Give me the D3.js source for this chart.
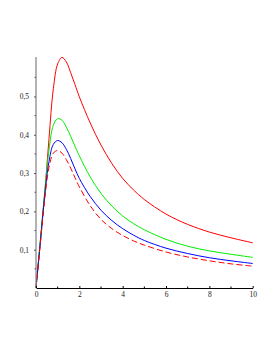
<!DOCTYPE html>
<html>
<head>
<meta charset="utf-8">
<script src="https://cdn.jsdelivr.net/npm/d3@7"></script>
<style>
  html, body { margin: 0; padding: 0; background: #ffffff; }
  svg { display: block; }
</style>
</head>
<body>
<svg id="chart" width="277" height="358"></svg>
<script>
// ---- data ----
const tValues      = [0, 0.2, 0.4, 0.6, 0.8, 1.0, 1.2, 1.4, 1.6, 1.8, 2, 2.5, 3, 3.5, 4, 4.5, 5, 6, 7, 8, 9, 10];
const redSolid     = [0, 0.12, 0.245, 0.39, 0.52, 0.585, 0.602, 0.59, 0.562, 0.531, 0.499, 0.431, 0.373, 0.325, 0.286, 0.256, 0.231, 0.193, 0.166, 0.146, 0.131, 0.118];
const greenSolid   = [0, 0.125, 0.25, 0.36, 0.425, 0.442, 0.438, 0.42, 0.396, 0.37, 0.345, 0.29, 0.247, 0.214, 0.188, 0.168, 0.152, 0.127, 0.109, 0.097, 0.088, 0.080];
const blueSolid    = [0, 0.12, 0.24, 0.33, 0.375, 0.385, 0.379, 0.362, 0.338, 0.311, 0.286, 0.239, 0.203, 0.176, 0.155, 0.138, 0.124, 0.104, 0.090, 0.079, 0.071, 0.064];
const redDashed    = [0, 0.115, 0.23, 0.315, 0.352, 0.359, 0.352, 0.335, 0.313, 0.288, 0.264, 0.215, 0.179, 0.155, 0.137, 0.123, 0.112, 0.094, 0.081, 0.071, 0.063, 0.057];
const xTickLabels  = [0, 2, 4, 6, 8, 10];
const xMinorTicks  = [1, 3, 5, 7, 9];
const yTickLabels  = [0.1, 0.2, 0.3, 0.4, 0.5];
const yMinorTicks  = [0.05, 0.15, 0.25, 0.35, 0.45, 0.55];

const series = [
  { values: redSolid,   color: "#ff0000", dash: null },
  { values: greenSolid, color: "#00ee00", dash: null },
  { values: blueSolid,  color: "#0000ff", dash: null },
  { values: redDashed,  color: "#ff0000", dash: "6,3" }
];

// ---- layout ----
const svg = d3.select("#chart");
const x = d3.scaleLinear().domain([0, 10]).range([36, 252.7]);
const y = d3.scaleLinear().domain([0, 0.603]).range([288, 57]);
const fmt = v => String(v).replace(".", ",");
const fontFam = "'Liberation Serif', 'Times New Roman', serif";

// curves
const line = d3.line()
  .x((d, i) => x(tValues[i]))
  .y(d => y(d))
  .curve(d3.curveCatmullRom.alpha(0.5));

series.forEach(s => {
  svg.append("path")
    .datum(s.values)
    .attr("d", line)
    .attr("fill", "none")
    .attr("stroke", s.color)
    .attr("stroke-width", 1)
    .attr("stroke-dasharray", s.dash);
});

// y axis (grey line)
const yAxis = d3.axisLeft(y).tickValues(yTickLabels).tickFormat(fmt).tickSize(2).tickPadding(5);
const gy = svg.append("g").attr("transform", `translate(${x(0)},0)`).call(yAxis);
gy.select(".domain").attr("stroke", "#8a8a8a").attr("stroke-width", 1.3).attr("d", `M0,${y(0)}V${y.range()[1]}`);
gy.selectAll(".tick line").attr("stroke", "#555");
gy.selectAll(".tick text").attr("font-family", fontFam).attr("font-size", 7.5).attr("fill", "#222");
gy.selectAll(".minor").data(yMinorTicks).enter().append("line")
  .attr("class", "minor")
  .attr("x1", -1.5).attr("x2", 0)
  .attr("y1", d => y(d)).attr("y2", d => y(d))
  .attr("stroke", "#555");

// x axis
const xAxis = d3.axisBottom(x).tickValues(xTickLabels).tickFormat(fmt).tickSizeInner(-2).tickSizeOuter(0).tickPadding(4);
const gx = svg.append("g").attr("transform", `translate(0,${y(0)})`).call(xAxis);
gx.select(".domain").attr("stroke", "#000").attr("stroke-width", 1);
gx.selectAll(".tick line").attr("stroke", "#000");
gx.selectAll(".tick text").attr("font-family", fontFam).attr("font-size", 7.5).attr("fill", "#222").attr("dy", "0.71em");
gx.selectAll(".minor").data(xMinorTicks).enter().append("line")
  .attr("class", "minor")
  .attr("x1", d => x(d)).attr("x2", d => x(d))
  .attr("y1", -1.5).attr("y2", 0)
  .attr("stroke", "#000");
</script>
</body>
</html>
